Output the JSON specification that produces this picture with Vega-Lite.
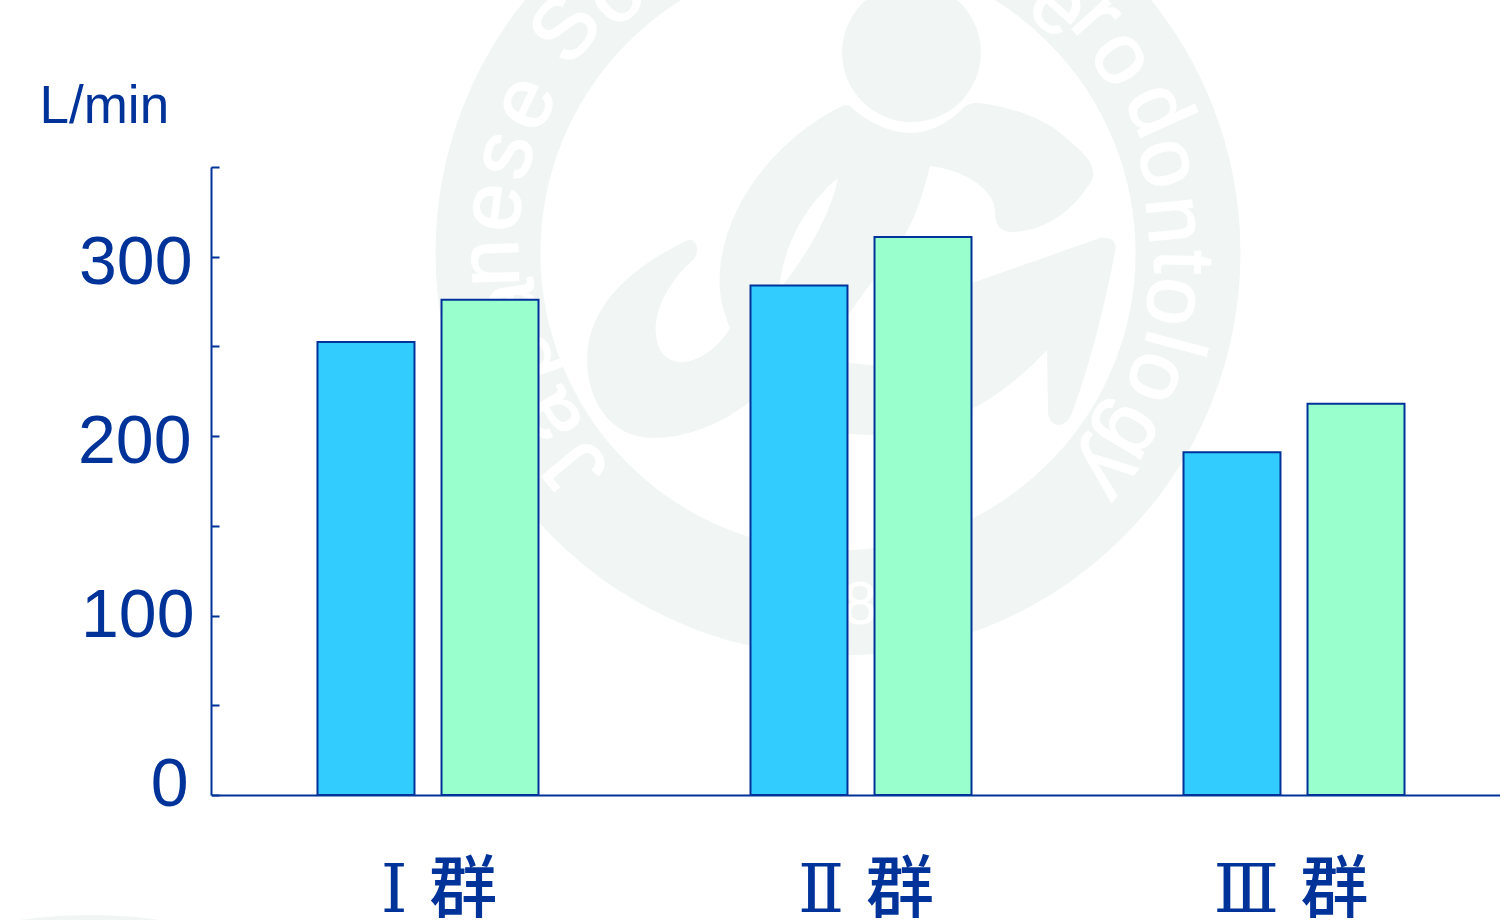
{
  "$schema": "https://vega.github.io/schema/vega-lite/v6.json",
  "width": 1289,
  "height": 628,
  "padding": {"left": 211, "top": 167, "right": 0, "bottom": 125},
  "autosize": {"type": "none"},
  "background": "#ffffff",
  "datasets": {
    "flow": [
      {"group": "Ⅰ 群", "series": "a", "flow": 252.4},
      {"group": "Ⅰ 群", "series": "b", "flow": 276},
      {"group": "Ⅱ 群", "series": "a", "flow": 284},
      {"group": "Ⅱ 群", "series": "b", "flow": 311},
      {"group": "Ⅲ 群", "series": "a", "flow": 191},
      {"group": "Ⅲ 群", "series": "b", "flow": 218}
    ],
    "emblem": [{"lx": 627, "ly": 86}],
    "head": [{"lx": 700.5, "ly": -114.5}],
    "lettering": [
      {"ch": "J", "lx": 366, "ly": 300, "turn": -129.4},
      {"ch": "a", "lx": 339, "ly": 250, "turn": -119.7},
      {"ch": "p", "lx": 314, "ly": 193, "turn": -108.9},
      {"ch": "a", "lx": 299, "ly": 138, "turn": -99},
      {"ch": "n", "lx": 281, "ly": 96, "turn": -91.7},
      {"ch": "e", "lx": 283, "ly": 40, "turn": -82.4},
      {"ch": "s", "lx": 294, "ly": -12, "turn": -73.6},
      {"ch": "e", "lx": 314, "ly": -64, "turn": -64.4},
      {"ch": "S", "lx": 356, "ly": -137, "turn": -50.5},
      {"ch": "o", "lx": 404, "ly": -172, "turn": -40.8},
      {"ch": "e", "lx": 848, "ly": -160, "turn": 42.4},
      {"ch": "r", "lx": 886, "ly": -149, "turn": 47.8},
      {"ch": "o", "lx": 911, "ly": -109, "turn": 55.5},
      {"ch": "d", "lx": 946, "ly": -57, "turn": 65.9},
      {"ch": "o", "lx": 957, "ly": -4, "turn": 74.7},
      {"ch": "n", "lx": 963, "ly": 53, "turn": 84.4},
      {"ch": "t", "lx": 970, "ly": 95, "turn": 91.5},
      {"ch": "o", "lx": 963, "ly": 135, "turn": 98.2},
      {"ch": "l", "lx": 961, "ly": 176, "turn": 104.9},
      {"ch": "o", "lx": 946, "ly": 211, "turn": 111.4},
      {"ch": "g", "lx": 922, "ly": 266, "turn": 121.4},
      {"ch": "y", "lx": 899, "ly": 306, "turn": 129}
    ],
    "year": [{"ch": "8", "lx": 649, "ly": 438}]
  },
  "layer": [
    {
      "data": {"name": "emblem"},
      "mark": {"type": "point", "shape": "circle", "filled": false, "stroke": "#f1f6f4", "strokeWidth": 105, "size": 490000, "opacity": 1, "clip": false},
      "encoding": {
        "x": {"field": "lx", "type": "quantitative", "scale": {"domain": [0, 1289], "range": [0, 1289], "nice": false, "zero": false}, "axis": null},
        "y": {"field": "ly", "type": "quantitative", "scale": {"domain": [0, 628], "range": [0, 628], "nice": false, "zero": false}, "axis": null}
      }
    },
    {
      "data": {"name": "head"},
      "mark": {"type": "point", "shape": "circle", "filled": true, "fill": "#f1f6f4", "strokeWidth": 0, "size": 19321, "opacity": 1, "clip": false},
      "encoding": {
        "x": {"field": "lx", "type": "quantitative", "scale": {"domain": [0, 1289], "range": [0, 1289], "nice": false, "zero": false}, "axis": null},
        "y": {"field": "ly", "type": "quantitative", "scale": {"domain": [0, 628], "range": [0, 628], "nice": false, "zero": false}, "axis": null}
      }
    },
    {
      "data": {"name": "emblem"},
      "mark": {
        "type": "point",
        "filled": true,
        "fill": "#f1f6f4",
        "strokeWidth": 0,
        "size": 4,
        "opacity": 1,
        "clip": false,
        "shape": "M12,-147C32,-128 57,-120 73,-120C92,-120 112,-131 125,-145C130,-149 135,-151 142,-150C172,-146 207,-135 227,-116C247,-100 258,-88 255,-75C237,-43 207,-21 174,-21C162,-21 157,-28 157,-41C157,-63 127,-83 92,-87C84,-53 74,-28 62,-10L10,62L-38,67L-55,32C-28,-3 -6,-43 0,-75C-33,-48 -53,-8 -58,29L-68,87L-108,75C-116,57 -120,37 -118,17C-113,-48 -63,-113 2,-146C5,-148 9,-148 12,-147ZM-150,-13C-143,-15 -138,-5 -143,5C-168,27 -185,57 -182,82C-180,102 -168,109 -156,109C-138,109 -118,92 -108,75L-38,87C-23,97 -8,110 35,112L134,30L262,-15C274,-17 280,-10 277,-1C267,52 252,112 234,160C229,175 212,177 210,160L209,97C172,137 112,182 35,182C22,182 12,181 2,180L-38,117L-90,150C-118,172 -153,185 -185,185C-228,185 -251,147 -251,107C-251,57 -213,17 -150,-13ZM-818,667C-788,662 -728,659 -678,667Z"
      },
      "encoding": {
        "x": {"field": "lx", "type": "quantitative", "scale": {"domain": [0, 1289], "range": [0, 1289], "nice": false, "zero": false}, "axis": null},
        "y": {"field": "ly", "type": "quantitative", "scale": {"domain": [0, 628], "range": [0, 628], "nice": false, "zero": false}, "axis": null}
      }
    },
    {
      "data": {"name": "lettering"},
      "mark": {"type": "text", "font": "Liberation Sans", "fontSize": 86, "fill": "#ffffff", "stroke": "#ffffff", "strokeWidth": 1.5, "align": "center", "baseline": "middle", "clip": false},
      "encoding": {
        "x": {"field": "lx", "type": "quantitative", "scale": {"domain": [0, 1289], "range": [0, 1289], "nice": false, "zero": false}, "axis": null},
        "y": {"field": "ly", "type": "quantitative", "scale": {"domain": [0, 628], "range": [0, 628], "nice": false, "zero": false}, "axis": null},
        "text": {"field": "ch"},
        "angle": {"field": "turn", "type": "quantitative", "scale": null}
      }
    },
    {
      "data": {"name": "year"},
      "mark": {"type": "text", "font": "Liberation Sans", "fontSize": 62, "fill": "#ffffff", "align": "center", "baseline": "middle", "clip": false},
      "encoding": {
        "x": {"field": "lx", "type": "quantitative", "scale": {"domain": [0, 1289], "range": [0, 1289], "nice": false, "zero": false}, "axis": null},
        "y": {"field": "ly", "type": "quantitative", "scale": {"domain": [0, 628], "range": [0, 628], "nice": false, "zero": false}, "axis": null},
        "text": {"field": "ch"}
      }
    },
    {
      "data": {"name": "flow"},
      "mark": {"type": "bar", "stroke": "#003399", "strokeWidth": 2, "opacity": 1},
      "encoding": {
        "x": {
          "field": "group",
          "type": "nominal",
          "sort": null,
          "title": null,
          "scale": {"range": [0.5, 1299.5], "paddingInner": 0.4896, "paddingOuter": 0.2448},
          "axis": {
            "domainColor": "#003399",
            "domainWidth": 2,
            "ticks": false,
            "grid": false,
            "labelAngle": 0,
            "labelFont": "DejaVu Serif, Noto Sans CJK JP",
            "labelFontSize": 68,
            "labelFontWeight": 500,
            "labelColor": "#003399",
            "labelBaseline": "top",
            "labelPadding": 62,
            "labelFlush": false,
            "labelOverlap": false,
            "labelBound": false,
            "labelOffset": {"expr": "datum.label == 'Ⅰ 群' ? 11 : datum.label == 'Ⅱ 群' ? 5 : -3"},
            "zindex": 1
          }
        },
        "xOffset": {
          "field": "series",
          "type": "nominal",
          "scale": {"paddingInner": 0.218, "paddingOuter": 0}
        },
        "y": {
          "field": "flow",
          "type": "quantitative",
          "scale": {"domain": [0, 350], "nice": false},
          "axis": {
            "values": [0, 50, 100, 150, 200, 250, 300, 350],
            "labelExpr": "datum.value % 100 == 0 ? datum.label : ''",
            "domainColor": "#003399",
            "domainWidth": 2,
            "tickColor": "#003399",
            "tickWidth": 2,
            "tickSize": -8,
            "grid": false,
            "labelFont": "Liberation Sans",
            "labelFontSize": 68,
            "labelColor": "#003399",
            "labelPadding": {"expr": "datum.value == 0 ? 31 : datum.value == 100 ? 25 : datum.value == 200 ? 28 : 27"},
            "labelBaseline": "middle",
            "labelFlush": false,
            "labelOverlap": false,
            "labelBound": false,
            "labelOffset": {"expr": "datum.value == 0 ? -10 : datum.value == 100 ? 1 : datum.value == 200 ? 6 : 7"},
            "title": "L/min",
            "titleFont": "Liberation Sans",
            "titleFontSize": 53,
            "titleFontWeight": "normal",
            "titleColor": "#003399",
            "titleAngle": 0,
            "titleAlign": "left",
            "titleBaseline": "alphabetic",
            "titleX": -172,
            "titleY": -45,
            "zindex": 1
          }
        },
        "fill": {
          "field": "series",
          "type": "nominal",
          "scale": {"domain": ["a", "b"], "range": ["#33ccff", "#99ffcc"]},
          "legend": null
        }
      }
    }
  ],
  "resolve": {"scale": {"x": "independent", "y": "independent"}},
  "config": {"view": {"stroke": null}}
}
